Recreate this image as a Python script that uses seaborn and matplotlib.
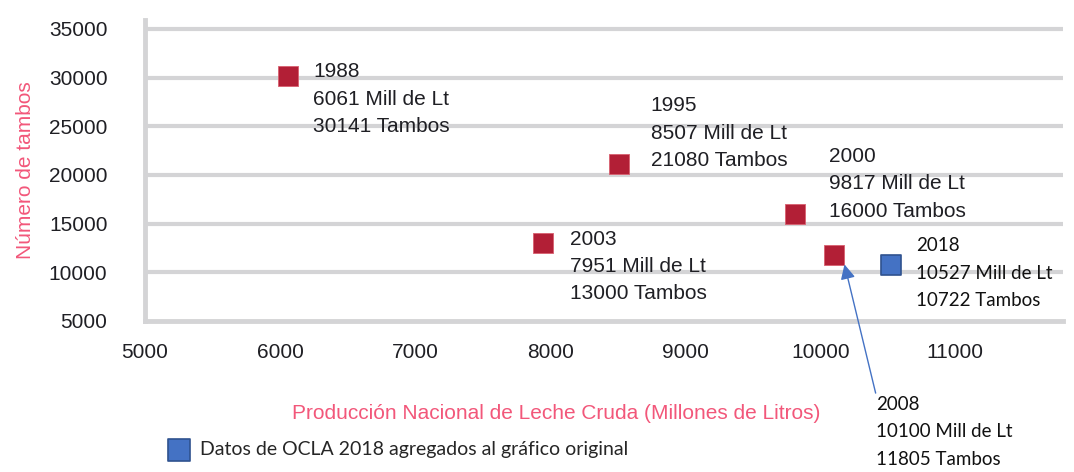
import seaborn as sns
import matplotlib.pyplot as plt
import pandas as pd

# datos
anios = [1988, 1995, 2000, 2003, 2008]
produccion = [6061, 8507, 9817, 7951, 10100]
tambos = [30141, 21080, 16000, 13000, 11805]

# dato agregado (OCLA 2018)
anio_ocla = [2018]
produccion_ocla = [10527]
tambos_ocla = [10722]

x_ticks = [5000, 6000, 7000, 8000, 9000, 10000, 11000]
y_ticks = [5000, 10000, 15000, 20000, 25000, 30000, 35000]

df = pd.DataFrame({'anio': anios, 'prod': produccion, 'tambos': tambos})
df_ocla = pd.DataFrame({'anio': anio_ocla, 'prod': produccion_ocla, 'tambos': tambos_ocla})

sns.set_style('white')
plt.rcParams['font.family'] = ['Liberation Sans', 'DejaVu Sans']

ROJO = '#B21F36'
AZUL = '#4472C4'
ROSA = '#F2577A'
GRIS = '#D4D4D6'
TXT = '#1f1f24'

fig = plt.figure(figsize=(10.74, 4.72), dpi=100)
ax = fig.add_axes([0.135, 0.32, 0.855, 0.638])

sns.scatterplot(data=df, x='prod', y='tambos', marker='s', s=200, color=ROJO,
                edgecolor='#d86070', linewidth=0.6, ax=ax, zorder=3)
sns.scatterplot(data=df_ocla, x='prod', y='tambos', marker='s', s=190, color=AZUL,
                edgecolor='#2F528F', linewidth=1.2, ax=ax, zorder=3,
                label='Datos de OCLA 2018 agregados al gráfico original')

ax.set_xlim(5000, 11800)
ax.set_ylim(5000, 35925)
ax.set_xticks(x_ticks)
ax.set_yticks(y_ticks)
ax.tick_params(axis='both', labelsize=15, colors=GRIS, labelcolor=TXT, width=3, length=6)
ax.tick_params(axis='x', pad=10)
ax.tick_params(axis='y', pad=21)
for t in y_ticks[1:]:
    ax.axhline(t, color=GRIS, lw=3, zorder=1)
for s in ['top', 'right']:
    ax.spines[s].set_visible(False)
for s in ['left', 'bottom']:
    ax.spines[s].set_color(GRIS)
    ax.spines[s].set_linewidth(3.5)

ax.set_xlabel('Producción Nacional de Leche Cruda (Millones de Litros)',
              fontsize=15, color=ROSA)
ax.xaxis.set_label_coords(0.448, -0.277)
ax.set_ylabel('Número de tambos', fontsize=15, color=ROSA, labelpad=10)

# etiquetas de cada punto (desplazamiento en puntos)
offsets = {1988: (18, 10), 1995: (23, 49), 2000: (24, 48), 2003: (19, 9.5)}
for _, r in df.iterrows():
    a = int(r['anio'])
    lbl = f"{a}\n{int(r['prod'])} Mill de Lt\n{int(r['tambos'])} Tambos"
    if a == 2008:
        ax.annotate(lbl, xy=(r['prod'] + 80, r['tambos'] - 1000), xytext=(23, -95),
                    textcoords='offset points', va='top', ha='left', fontsize=13.5,
                    linespacing=1.72, color='#111111', family=['Lato', 'DejaVu Sans'],
                    arrowprops=dict(arrowstyle='-|>', color=AZUL, lw=1, mutation_scale=22,
                                    shrinkA=0, shrinkB=0, relpos=(0.0, 1.0)))
    else:
        ax.annotate(lbl, xy=(r['prod'], r['tambos']), xytext=offsets[a],
                    textcoords='offset points', va='top', ha='left', fontsize=15,
                    linespacing=1.55, color=TXT)

for _, r in df_ocla.iterrows():
    lbl = f"{int(r['anio'])}\n{int(r['prod'])} Mill de Lt\n{int(r['tambos'])} Tambos"
    ax.annotate(lbl, xy=(r['prod'], r['tambos']), xytext=(18, 20),
                textcoords='offset points', va='top', ha='left', fontsize=13.5,
                linespacing=1.72, color='#111111', family=['Lato', 'DejaVu Sans'])

ax.get_legend().remove()
h = ax.collections[1]
fig.legend(handles=[h], labels=[h.get_label()], loc='center left',
           bbox_to_anchor=(158 / 1074, 1 - 450 / 472), frameon=False, borderaxespad=0,
           prop={'family': 'Lato', 'size': 14}, handletextpad=0.35, handlelength=1.4,
           markerscale=1.15)

fig.savefig('out.png', dpi=100)
